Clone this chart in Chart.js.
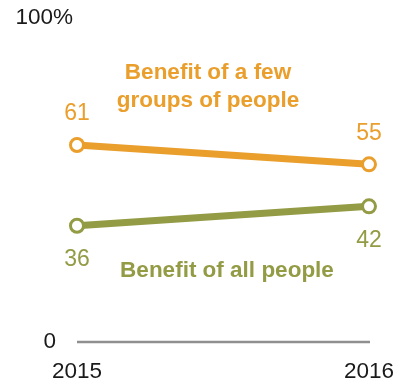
<!DOCTYPE html>
<html>
<head>
<meta charset="utf-8">
<script src="https://cdn.jsdelivr.net/npm/chart.js@4"></script>
<style>
html,body{margin:0;padding:0;background:#fff;}
#wrap{width:405px;height:383px;position:relative;}
</style>
</head>
<body>
<div id="wrap"><canvas id="c" width="405" height="383"></canvas></div>
<script>
const years = ['2015', '2016'];
const fewGroups = [61, 55];
const allPeople = [36, 42];
const yTickValues = [0, 100];
const yTickLabels = ['0', '100%'];
const fewLabel = ['Benefit of a few', 'groups of people'];
const allLabel = ['Benefit of all people'];

const ORANGE = '#EA9E2C';
const GREEN = '#939B44';
const FONT = '"Liberation Sans", Arial, sans-serif';

const overlay = {
  id: 'overlay',
  beforeDatasetsDraw(chart) {
    const ctx = chart.ctx;
    const x = chart.scales.x, y = chart.scales.y;
    ctx.save();
    ctx.strokeStyle = '#8f8f8f';
    ctx.lineWidth = 2.5;
    ctx.beginPath();
    ctx.moveTo(x.getPixelForValue(0), y.getPixelForValue(0));
    ctx.lineTo(x.getPixelForValue(1) + 1, y.getPixelForValue(0));
    ctx.stroke();
    ctx.restore();
  },
  afterDatasetsDraw(chart) {
    const ctx = chart.ctx;
    const x = chart.scales.x, y = chart.scales.y;
    ctx.save();
    ctx.textBaseline = 'middle';
    ctx.fillStyle = '#1a1a1a';
    ctx.font = '22.5px ' + FONT;
    ctx.textAlign = 'right';
    ctx.fillText(yTickLabels[1], 73, y.getPixelForValue(yTickValues[1]) - 1);
    ctx.fillText(yTickLabels[0], 56, y.getPixelForValue(yTickValues[0]));
    ctx.textAlign = 'center';
    years.forEach((yr, i) => {
      ctx.fillText(yr, x.getPixelForValue(i), 372);
    });
    ctx.font = '23px ' + FONT;
    fewGroups.forEach((v, i) => {
      ctx.fillStyle = ORANGE;
      ctx.fillText(String(v), x.getPixelForValue(i), y.getPixelForValue(v) - 31);
    });
    allPeople.forEach((v, i) => {
      ctx.fillStyle = GREEN;
      ctx.fillText(String(v), x.getPixelForValue(i), y.getPixelForValue(v) + 34);
    });
    ctx.font = 'bold 22.5px ' + FONT;
    ctx.fillStyle = ORANGE;
    fewLabel.forEach((t, i) => ctx.fillText(t, 208, 73 + i * 28));
    ctx.fillStyle = GREEN;
    allLabel.forEach((t, i) => ctx.fillText(t, 227, 271 + i * 28));
    ctx.restore();
  }
};

new Chart(document.getElementById('c'), {
  type: 'line',
  data: {
    labels: years,
    datasets: [
      {
        data: fewGroups,
        borderColor: ORANGE,
        backgroundColor: '#fff',
        pointBackgroundColor: '#fff',
        pointBorderColor: ORANGE,
        borderWidth: 7,
        pointRadius: 6.5,
        pointBorderWidth: 3,
        clip: false,
        tension: 0
      },
      {
        data: allPeople,
        borderColor: GREEN,
        backgroundColor: '#fff',
        pointBackgroundColor: '#fff',
        pointBorderColor: GREEN,
        borderWidth: 7,
        pointRadius: 6.5,
        pointBorderWidth: 3,
        clip: false,
        tension: 0
      }
    ]
  },
  options: {
    responsive: false,
    animation: false,
    devicePixelRatio: 1,
    layout: { padding: { left: 77, right: 36, top: 19, bottom: 41 } },
    plugins: { legend: { display: false }, tooltip: { enabled: false } },
    scales: {
      x: { display: false, offset: false },
      y: { display: false, min: 0, max: 100 }
    }
  },
  plugins: [overlay]
});
</script>
</body>
</html>
